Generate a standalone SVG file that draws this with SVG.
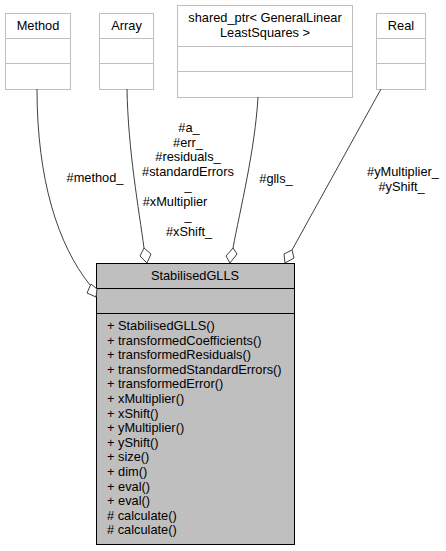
<svg xmlns="http://www.w3.org/2000/svg" width="446" height="551" viewBox="0 0 446 551">
<style>
text{font-family:"Liberation Sans",Arial,sans-serif;font-size:12.8px;fill:#000}
.mid{text-anchor:middle}
.ext rect{fill:#fff;stroke:#bfbfbf;stroke-width:1}
.ext line{stroke:#bfbfbf;stroke-width:1}
.main rect{fill:#bfbfbf;stroke:#000;stroke-width:1}
.main line{stroke:#000;stroke-width:1}
.edge path{fill:none;stroke:#404040;stroke-width:1}
.edge polygon{fill:#fff;stroke:#404040;stroke-width:1}
</style>
<rect width="446" height="551" fill="#fff"/>
<g id="node-method" class="ext">
<rect x="5.5" y="13.5" width="65" height="76"/>
<line x1="5.5" y1="38.5" x2="70.5" y2="38.5"/>
<line x1="5.5" y1="63.5" x2="70.5" y2="63.5"/>
<text class="mid" x="38" y="30">Method</text>
</g>
<g id="node-array" class="ext">
<rect x="99.5" y="13.5" width="54" height="76"/>
<line x1="99.5" y1="38.5" x2="153.5" y2="38.5"/>
<line x1="99.5" y1="63.5" x2="153.5" y2="63.5"/>
<text class="mid" x="126.5" y="30">Array</text>
</g>
<g id="node-shared" class="ext">
<rect x="177.5" y="5.5" width="175" height="92"/>
<line x1="177.5" y1="46.5" x2="352.5" y2="46.5"/>
<line x1="177.5" y1="71.5" x2="352.5" y2="71.5"/>
<text class="mid" x="265" y="22">shared_ptr&lt; GeneralLinear</text>
<text class="mid" x="265" y="37">LeastSquares &gt;</text>
</g>
<g id="node-real" class="ext">
<rect x="376.5" y="13.5" width="49" height="76"/>
<line x1="376.5" y1="38.5" x2="425.5" y2="38.5"/>
<line x1="376.5" y1="63.5" x2="425.5" y2="63.5"/>
<text class="mid" x="401" y="30">Real</text>
</g>
<g id="node-stabilised" class="main">
<rect x="96.5" y="263.5" width="198" height="281"/>
<line x1="96.5" y1="288.5" x2="294.5" y2="288.5"/>
<line x1="96.5" y1="313.5" x2="294.5" y2="313.5"/>
<text class="mid" x="195" y="280">StabilisedGLLS</text>
<text x="107" y="330">+ StabilisedGLLS()</text>
<text x="107" y="344.6">+ transformedCoefficients()</text>
<text x="107" y="359.2">+ transformedResiduals()</text>
<text x="107" y="373.8">+ transformedStandardErrors()</text>
<text x="107" y="388.4">+ transformedError()</text>
<text x="107" y="403">+ xMultiplier()</text>
<text x="107" y="417.6">+ xShift()</text>
<text x="107" y="432.2">+ yMultiplier()</text>
<text x="107" y="446.8">+ yShift()</text>
<text x="107" y="461.4">+ size()</text>
<text x="107" y="476">+ dim()</text>
<text x="107" y="490.6">+ eval()</text>
<text x="107" y="505.2">+ eval()</text>
<text x="107" y="519.8"># calculate()</text>
<text x="107" y="534.4"># calculate()</text>
</g>
<g id="connectors" class="edge">
<path d="M37,89 C37,180 58,245 90,285"/>
<polygon points="91,284 97,289 96,297 87,293"/>
<path d="M127,89 C128,150 139,210 144,248"/>
<polygon points="144,248 151,254 147,263 140,256"/>
<path d="M258,97 C255,150 240,210 233,248"/>
<polygon points="233,248 237,254 230,263 226,256"/>
<path d="M381,89 L292,250"/>
<polygon points="292,250 294,258 285,263 284,254"/>
</g>
<g id="labels">
<text class="mid" x="95" y="182">#method_</text>
<text class="mid" x="188" y="132"><tspan x="189" y="132">#a_</tspan><tspan x="188" y="146.5">#err_</tspan><tspan x="188" y="161">#residuals_</tspan><tspan x="188" y="175.5">#standardErrors</tspan><tspan x="188" y="190">_</tspan><tspan x="175" y="205.5">#xMultiplier</tspan><tspan x="188" y="220">_</tspan><tspan x="189" y="235.5">#xShift_</tspan></text>
<text class="mid" x="276" y="183">#glls_</text>
<text class="mid" x="403" y="176">#yMultiplier_</text>
<text class="mid" x="401.5" y="190.5">#yShift_</text>
</g>
</svg>
